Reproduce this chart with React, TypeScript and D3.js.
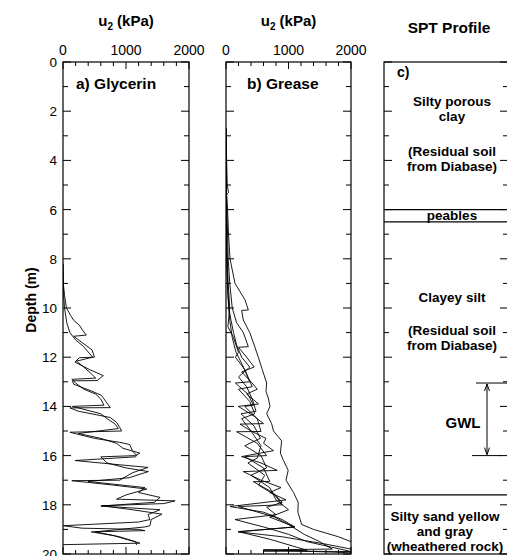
import React from "react";
import * as d3 from "d3";

// ---------- data ----------
const depthTicks = d3.range(0, 21, 1);
const depthLabels = [0, 2, 4, 6, 8, 10, 12, 14, 16, 18, 20];
const u2Ticks = d3.range(0, 2001, 200);
const u2Labels = [0, 1000, 2000];

// a) Glycerin  [depth (m), u2 (kPa)]
const glycerin1: [number, number][] = [
  [8.2, 0], [9.0, 5], [9.5, 25], [10.0, 55], [10.3, 120], [10.5, 170], [10.7, 260], [10.9, 310],
  [11.1, 370], [11.15, 170], [11.4, 300], [11.7, 460], [12.0, 500], [12.02, 260], [12.2, 190],
  [12.5, 420], [12.75, 640], [12.95, 540], [12.96, 150], [13.1, 170], [13.35, 430], [13.55, 610],
  [13.8, 680], [14.05, 750], [14.06, 110], [14.2, 250], [14.45, 750], [14.65, 850], [14.85, 900],
  [15.0, 930], [15.05, 110], [15.3, 500], [15.46, 900], [15.55, 1060], [15.8, 1100], [16.0, 1170],
  [16.05, 1150], [16.2, 190], [16.35, 800], [16.48, 1350], [16.7, 1100], [17.0, 900], [17.02, 140],
  [17.2, 800], [17.36, 1330], [17.6, 1000], [17.77, 850], [17.84, 1780], [17.95, 1600], [18.04, 615],
  [18.2, 1100], [18.38, 1570], [18.6, 1400], [18.85, 1380], [18.9, 1300], [19.1, 510], [19.3, 900],
  [19.56, 1220], [19.62, 0],
];
const glycerin2: [number, number][] = [
  [8.2, 0], [9.5, 10], [10.0, 25], [10.6, 60], [11.0, 110], [11.3, 200], [11.55, 320], [11.95, 455],
  [12.0, 470], [12.16, 215], [12.4, 330], [12.63, 430], [12.85, 520], [12.9, 140], [13.05, 200],
  [13.3, 330], [13.5, 520], [13.7, 600], [13.95, 650], [14.0, 150], [14.3, 600], [14.5, 700],
  [14.7, 820], [14.9, 880], [15.1, 243], [15.3, 600], [15.5, 850], [15.7, 950], [15.9, 1220],
  [16.0, 1150], [16.05, 600], [16.3, 700], [16.5, 1000], [16.65, 1355], [16.9, 1050], [17.05, 400],
  [17.3, 1300], [17.5, 1200], [17.7, 1540], [17.9, 1450], [18.05, 600], [18.2, 1540], [18.4, 1350],
  [18.6, 1380], [18.7, 1200], [18.85, 5], [18.95, 300], [19.0, 1200], [19.05, 1300], [19.1, 450],
  [19.25, 800], [19.4, 1000], [19.5, 1150], [19.63, 1170],
];

// b) Grease
const grease1: [number, number][] = [
  [2.7, 0], [4, 10], [5, 20], [5.3, 40], [5.4, 10], [6, 25], [7, 40], [8, 64], [9, 144], [9.67, 304],
  [10.08, 357], [10.1, 250], [10.49, 277], [11, 380], [11.5, 450], [12, 517], [12.5, 580], [13.05, 650],
  [13.4, 640], [13.66, 677], [14, 704], [14.3, 650], [14.7, 730], [15, 760], [15.4, 890], [15.9, 870],
  [16.2, 920], [16.6, 995], [17, 960], [17.5, 1080], [17.9, 1155], [18.3, 1150], [18.8, 1210],
  [19.0, 1400], [19.3, 1800], [19.5, 2000],
];
const grease2: [number, number][] = [
  [2.7, 0], [5, 5], [6, 15], [7, 25], [8, 35], [9, 60], [10, 100], [10.6, 170], [11, 277], [11.57, 357],
  [11.6, 200], [12, 330], [12.4, 450], [12.6, 250], [13, 400], [13.3, 500], [13.5, 330], [13.9, 520],
  [14.0, 197], [14.4, 450], [14.7, 600], [14.72, 224], [15, 400], [15.3, 640], [15.5, 600], [15.8, 760],
  [16.04, 250], [16.3, 560], [16.6, 820], [16.65, 277], [17, 560], [17.3, 880], [17.5, 700], [17.8, 960],
  [18.07, 64], [18.3, 600], [18.6, 900], [18.9, 1100], [19.1, 197], [19.3, 900], [19.6, 1600], [19.8, 2000],
];
const grease3: [number, number][] = [
  [2.7, 0], [5, 3], [7, 10], [8, 20], [9, 35], [10, 60], [10.76, 30], [11.2, 120], [11.8, 200], [12.0, 150],
  [12.5, 300], [13.0, 380], [13.05, 150], [13.5, 350], [13.95, 440], [14.0, 300], [14.5, 500], [15.02, 560],
  [15.03, 170], [15.5, 500], [16.0, 650], [16.04, 300], [16.5, 600], [17.05, 700], [17.06, 437], [17.5, 750],
  [17.9, 900], [18.1, 650], [18.4, 800], [18.6, 144], [18.9, 600], [19.2, 1000], [19.5, 1300], [19.9, 2000],
];
const grease4: [number, number][] = [
  [2.7, 0], [6, 5], [8, 12], [9, 25], [10, 45], [10.5, 80], [11, 120], [11.5, 170], [12, 250], [12.4, 380],
  [12.8, 200], [13.2, 330], [13.7, 420], [14.2, 480], [14.3, 240], [14.8, 450], [15.3, 550], [15.6, 300],
  [16.0, 560], [16.5, 650], [16.8, 400], [17.3, 700], [17.8, 800], [18.2, 1000], [18.5, 700], [18.9, 1100],
  [19.09, 197], [19.4, 700], [19.85, 1300], [19.88, 600], [19.9, 2000],
];
const grease5: [number, number][] = [
  [2.7, 0], [7, 8], [8.5, 15], [9.5, 30], [10.5, 60], [11.2, 100], [11.8, 160], [12.3, 260], [12.8, 350],
  [13.2, 420], [13.3, 200], [13.8, 380], [14.3, 460], [14.5, 250], [15.0, 400], [15.6, 560], [16.1, 500],
  [16.3, 350], [16.8, 620], [17.2, 520], [17.6, 780], [18.0, 900], [18.07, 200], [18.5, 780], [18.8, 1000],
  [19.2, 1250], [19.5, 1500], [19.8, 1700], [19.83, 600], [19.95, 2000],
];

const glycerinSeries = [glycerin1, glycerin2];
const greaseSeries = [grease1, grease2, grease3, grease4, grease5];

// c) SPT profile
const layerBoundaries = [6.0, 6.5, 17.6];
const gwlTop = 13.05;
const gwlBottom = 16.0;

// ---------- layout ----------
const W = 507;
const H = 556;
const TOP = 62;
const BOTTOM = 554;
const FONT = "'Liberation Sans', Arial, Helvetica, sans-serif";

const y = d3.scaleLinear().domain([0, 20]).range([TOP, BOTTOM]);

function Panel({ x0, x1, series, label, labelX, leftLabels }: any) {
  const x = d3.scaleLinear().domain([0, 2000]).range([x0, x1]);
  const line = d3
    .line<[number, number]>()
    .x((d) => x(d[1]))
    .y((d) => y(d[0]));
  return (
    <g>
      <defs>
        <clipPath id={"clip" + x0}>
          <rect x={x0} y={TOP} width={x1 - x0} height={BOTTOM - TOP} />
        </clipPath>
      </defs>
      <g clipPath={`url(#clip${x0})`}>
        {series.map((s: [number, number][], i: number) => (
          <path key={i} d={line(s) || ""} fill="none" stroke="#000" strokeWidth={0.9} />
        ))}
      </g>
      <rect x={x0} y={TOP} width={x1 - x0} height={BOTTOM - TOP} fill="none" stroke="#000" strokeWidth={1.2} />
      {u2Ticks.map((t) => {
        const major = t % 1000 === 0;
        const len = major ? 7 : 4;
        return (
          <g key={t}>
            <line x1={x(t)} x2={x(t)} y1={TOP} y2={TOP + len} stroke="#000" />
            <line x1={x(t)} x2={x(t)} y1={BOTTOM} y2={BOTTOM - len} stroke="#000" />
          </g>
        );
      })}
      {u2Labels.map((t) => (
        <text key={t} x={x(t)} y={55} fontSize={14} textAnchor="middle" fontFamily={FONT}>
          {t}
        </text>
      ))}
      {depthTicks.map((t) => {
        const major = t % 2 === 0;
        const len = major ? 8 : 5;
        return (
          <g key={t}>
            <line x1={x0} x2={x0 + len} y1={y(t)} y2={y(t)} stroke="#000" />
            <line x1={x1} x2={x1 - len} y1={y(t)} y2={y(t)} stroke="#000" />
          </g>
        );
      })}
      {leftLabels &&
        depthLabels.map((t) => (
          <text key={t} x={x0 - 6} y={y(t) + 5} fontSize={13.5} textAnchor="end" fontFamily={FONT}>
            {t}
          </text>
        ))}
      <text x={(x0 + x1) / 2} y={26} fontSize={15} fontWeight="bold" textAnchor="middle" fontFamily={FONT}>
        u<tspan fontSize={10} dy={4}>2</tspan>
        <tspan dy={-4}> (kPa)</tspan>
      </text>
      <text x={labelX} y={89} fontSize={15.5} fontWeight="bold" fontFamily={FONT}>
        {label}
      </text>
    </g>
  );
}

function SptPanel() {
  const x0 = 384;
  const x1 = 509;
  const bold = { fontWeight: "bold" as const, fontFamily: FONT, fontSize: 13.5 };
  const arrowX = 487;
  return (
    <g>
      <rect x={x0} y={TOP} width={x1 - x0} height={BOTTOM - TOP} fill="none" stroke="#000" strokeWidth={1.2} />
      {depthTicks.map((t) => {
        const major = t % 2 === 0;
        const len = major ? 8 : 5;
        return (
          <g key={t}>
            <line x1={x0} x2={x0 + len} y1={y(t)} y2={y(t)} stroke="#000" />
            <line x1={x1} x2={x1 - len - 1} y1={y(t)} y2={y(t)} stroke="#000" />
          </g>
        );
      })}
      {layerBoundaries.map((d) => (
        <line key={d} x1={x0} x2={x1} y1={y(d)} y2={y(d)} stroke="#000" strokeWidth={1.3} />
      ))}
      <text x={449} y={33} fontSize={15.5} fontWeight="bold" textAnchor="middle" fontFamily={FONT}>
        SPT Profile
      </text>
      <text x={397} y={77} {...bold} fontSize={14}>c)</text>
      <text x={452} y={106} {...bold} textAnchor="middle">Silty porous</text>
      <text x={452} y={121} {...bold} textAnchor="middle">clay</text>
      <text x={452} y={156} {...bold} textAnchor="middle">(Residual soil</text>
      <text x={452} y={171} {...bold} textAnchor="middle">from Diabase)</text>
      <text x={452} y={220} {...bold} textAnchor="middle">peables</text>
      <text x={452} y={302} {...bold} textAnchor="middle">Clayey silt</text>
      <text x={452} y={335} {...bold} textAnchor="middle">(Residual soil</text>
      <text x={452} y={350} {...bold} textAnchor="middle">from Diabase)</text>
      <text x={463} y={428} {...bold} fontSize={15} textAnchor="middle">GWL</text>
      <text x={445} y={521} {...bold} textAnchor="middle">Silty sand yellow</text>
      <text x={445} y={536} {...bold} textAnchor="middle">and gray</text>
      <text x={445} y={551} {...bold} textAnchor="middle">(wheathered rock)</text>
      {/* GWL marker */}
      <line x1={476} x2={x1} y1={y(gwlTop)} y2={y(gwlTop)} stroke="#000" strokeWidth={1} />
      <line x1={472} x2={502} y1={y(gwlBottom)} y2={y(gwlBottom)} stroke="#000" strokeWidth={1} />
      <line x1={arrowX} x2={arrowX} y1={y(gwlTop) + 1} y2={y(gwlBottom) - 1} stroke="#000" strokeWidth={1} />
      <path d={`M${arrowX - 2.5},${y(gwlTop) + 8} L${arrowX},${y(gwlTop) + 1} L${arrowX + 2.5},${y(gwlTop) + 8}`} fill="none" stroke="#000" />
      <path d={`M${arrowX - 2.5},${y(gwlBottom) - 8} L${arrowX},${y(gwlBottom) - 1} L${arrowX + 2.5},${y(gwlBottom) - 8}`} fill="none" stroke="#000" />
    </g>
  );
}

export default function App() {
  return (
    <svg width={W} height={H} style={{ position: "absolute", left: 0, top: 0, background: "#fff" }}>
      <rect width={W} height={H} fill="#fff" />
      <Panel x0={63} x1={189} series={glycerinSeries} label="a) Glycerin" labelX={76} leftLabels />
      <Panel x0={226} x1={351} series={greaseSeries} label="b) Grease" labelX={247} leftLabels={false} />
      <SptPanel />
      <text
        transform={`translate(36,300) rotate(-90)`}
        fontSize={14}
        fontWeight="bold"
        textAnchor="middle"
        fontFamily={FONT}
      >
        Depth (m)
      </text>
    </svg>
  );
}
